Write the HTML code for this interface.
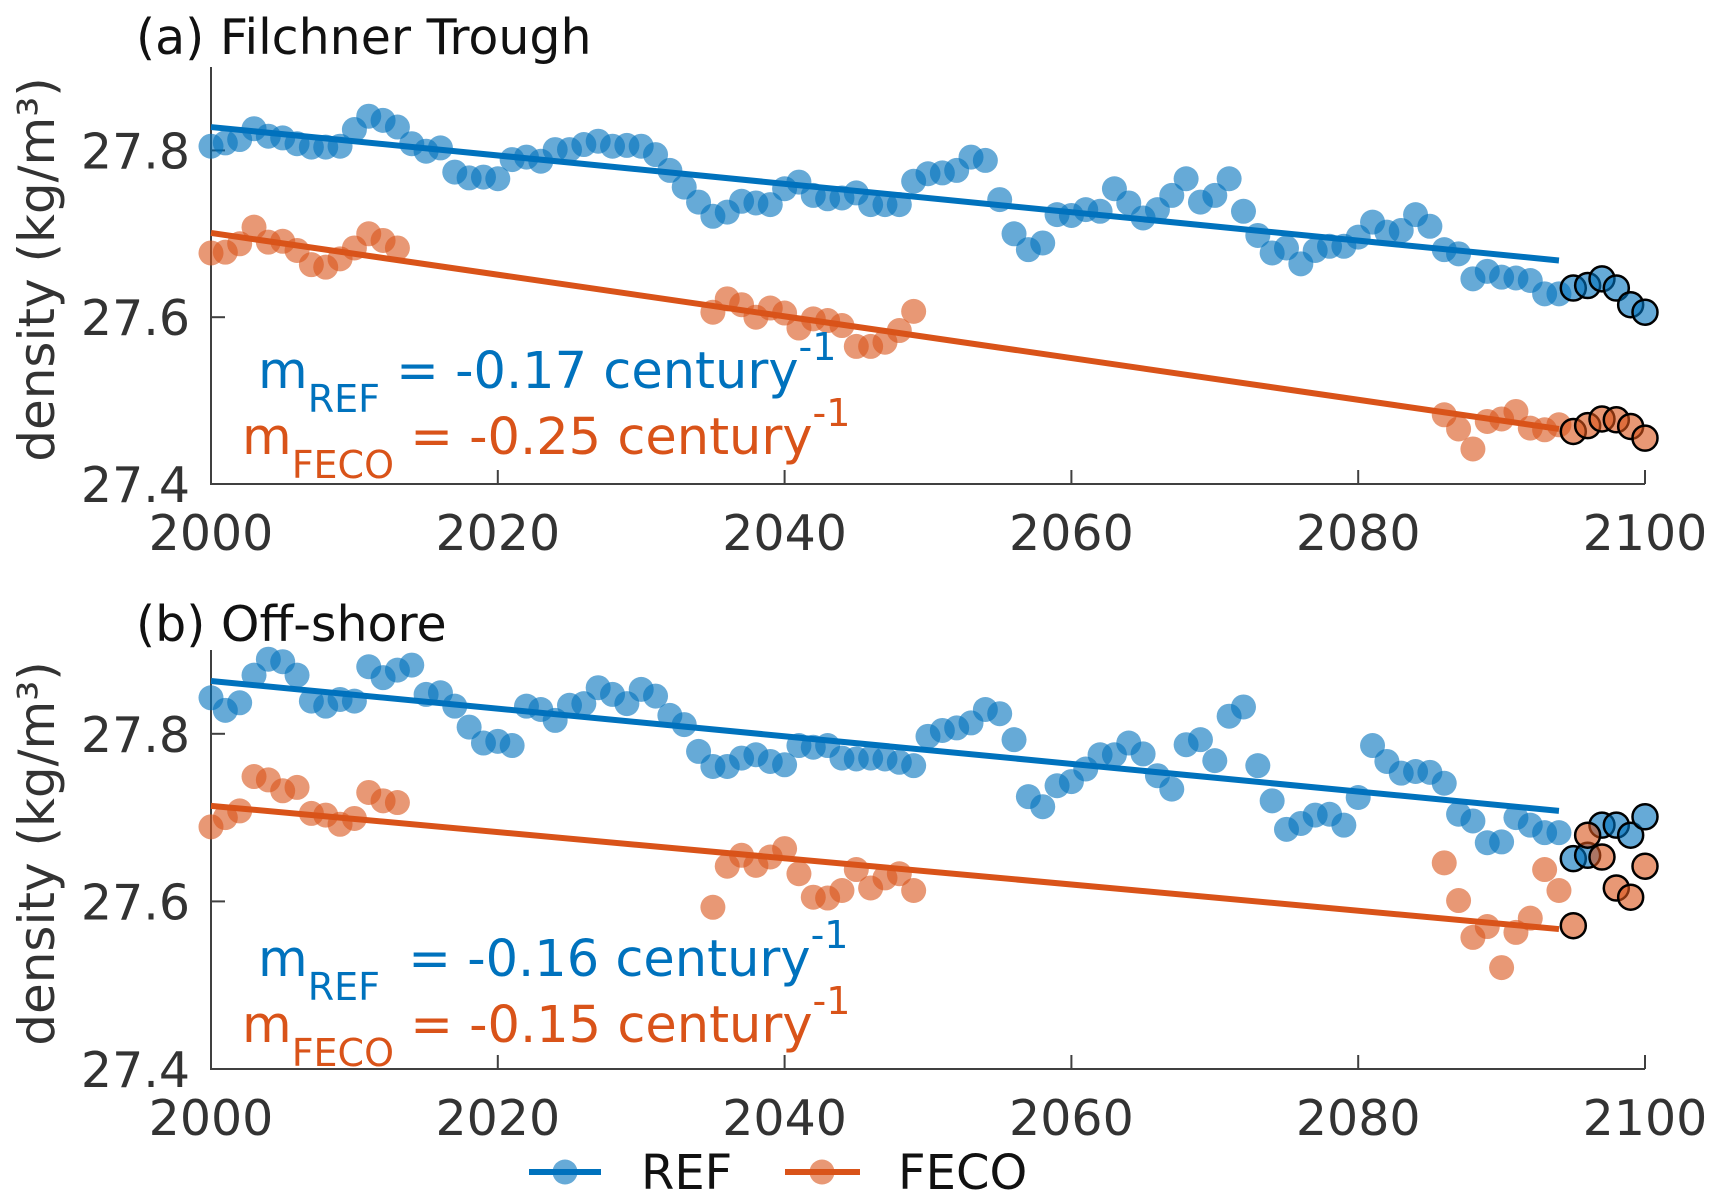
<!DOCTYPE html>
<html><head><meta charset="utf-8"><style>
html,body{margin:0;padding:0;background:#fff;}
svg{display:block;font-family:"DejaVu Sans","Liberation Sans",sans-serif;}
</style></head><body>
<svg id="chart" width="1720" height="1202" viewBox="0 0 1720 1202" xmlns="http://www.w3.org/2000/svg"></svg>
<script>
const xTicks = [2000, 2020, 2040, 2060, 2080, 2100];
const yTicks = [27.4, 27.6, 27.8];
const yTickLabels = ["27.4", "27.6", "27.8"];
const refYearsStart = 2000;
const fecoYears = [2000,2001,2002,2003,2004,2005,2006,2007,2008,2009,2010,2011,2012,2013,
 2035,2036,2037,2038,2039,2040,2041,2042,2043,2044,2045,2046,2047,2048,2049,
 2086,2087,2088,2089,2090,2091,2092,2093,2094,2095,2096,2097,2098,2099,2100];
const aRef = [27.805,27.809,27.813,27.826,27.817,27.815,27.808,27.804,27.804,27.805,27.825,27.841,27.836,27.828,27.808,27.799,27.803,27.774,27.767,27.768,27.766,
 27.789,27.792,27.787,27.801,27.801,27.807,27.811,27.805,27.806,27.805,27.795,27.776,27.756,27.738,27.721,27.726,27.739,27.737,27.735,27.754,
 27.762,27.746,27.742,27.743,27.749,27.735,27.735,27.735,27.763,27.772,27.773,27.776,27.792,27.788,27.741,27.700,27.681,27.689,27.723,27.722,
 27.729,27.727,27.754,27.737,27.719,27.729,27.746,27.766,27.738,27.746,27.766,27.727,27.698,27.677,27.683,27.664,27.680,27.685,27.685,27.696,
 27.714,27.702,27.704,27.723,27.709,27.681,27.676,27.646,27.655,27.648,27.647,27.644,27.628,27.628,27.635,27.638,27.646,27.635,27.615,27.606];
const aFeco = [27.677,27.678,27.688,27.708,27.690,27.691,27.680,27.663,27.660,27.670,27.683,27.700,27.692,27.683,
 27.606,27.622,27.615,27.600,27.611,27.605,27.587,27.598,27.596,27.590,27.565,27.565,27.570,27.584,27.607,
 27.483,27.466,27.442,27.475,27.478,27.487,27.467,27.465,27.471,27.463,27.470,27.478,27.477,27.469,27.455];
const bRef = [27.843,27.828,27.837,27.870,27.889,27.886,27.870,27.839,27.833,27.841,27.839,27.880,27.867,27.876,27.882,27.847,27.849,27.833,27.808,27.789,27.791,
 27.786,27.833,27.829,27.816,27.834,27.836,27.855,27.847,27.836,27.853,27.845,27.822,27.811,27.779,27.761,27.761,27.771,27.775,27.767,27.763,
 27.786,27.784,27.786,27.771,27.770,27.771,27.770,27.766,27.762,27.797,27.804,27.807,27.813,27.829,27.824,27.793,27.725,27.713,27.738,27.743,
 27.758,27.775,27.775,27.789,27.776,27.750,27.734,27.787,27.793,27.768,27.821,27.832,27.762,27.720,27.686,27.693,27.703,27.704,27.691,27.724,
 27.786,27.767,27.753,27.755,27.754,27.741,27.704,27.696,27.670,27.671,27.700,27.691,27.682,27.682,27.651,27.655,27.691,27.691,27.679,27.701];
const bFeco = [27.689,27.700,27.708,27.749,27.745,27.732,27.736,27.705,27.703,27.692,27.699,27.730,27.720,27.718,
 27.593,27.642,27.655,27.643,27.653,27.663,27.633,27.605,27.604,27.613,27.638,27.616,27.628,27.633,27.613,
 27.646,27.601,27.557,27.570,27.521,27.563,27.580,27.638,27.613,27.571,27.679,27.653,27.616,27.605,27.642];
const fitYears = [2000, 2094];
const aRefFit = [27.828, 27.668];
const aFecoFit = [27.701, 27.466];
const bRefFit = [27.863, 27.708];
const bFecoFit = [27.714, 27.567];

const NS = "http://www.w3.org/2000/svg";
const svg = document.getElementById("chart");
const BLUE = "#0072BD", ORANGE = "#D95319", AX = "#404040";
function mk(tag, attrs, parent) {
  const e = document.createElementNS(NS, tag);
  for (const k in attrs) e.setAttribute(k, attrs[k]);
  (parent || svg).appendChild(e);
  return e;
}
const X0 = 211, X1 = 1645;
function xs(yr) { return X0 + (yr - 2000) / 100 * (X1 - X0); }

function panel(id, top, bottom, title, titleY, refData, fecoData, refFit, fecoFit, refSub, refTxt, fecoTxt, txtY) {
  const g = mk("g", {});
  
  
  const ys = v => bottom - (v - 27.4) / 0.5 * (bottom - top);
  const ax = mk("path", {d: `M${X0},${top} L${X0},${bottom} L${X1},${bottom}`, stroke: AX, "stroke-width": 2, fill: "none"}, g);
  
  
  xTicks.forEach(t => {
    const x = xs(t);
    mk("line", {x1: x, y1: bottom, x2: x, y2: bottom - 14, stroke: AX, "stroke-width": 2}, g);
    const tl = mk("text", {x: x, y: bottom + 66, "text-anchor": "middle", "font-size": 49, fill: "#333"}, g);
    tl.textContent = t;
    
    
  });
  yTicks.forEach((t, i) => {
    const y = ys(t);
    mk("line", {x1: X0, y1: y, x2: X0 + 14, y2: y, stroke: AX, "stroke-width": 2}, g);
    const tl = mk("text", {x: 190, y: y + 18, "text-anchor": "end", "font-size": 49, fill: "#333"}, g);
    tl.textContent = yTickLabels[i];
    
    
  });
  const yl = mk("text", {x: 0, y: 0, transform: `translate(54,${(top + bottom) / 2 - 6}) rotate(-90)`, "text-anchor": "middle", "font-size": 50, fill: "#333"}, g);
  yl.textContent = "density (kg/m³)";
  
  
  const tt = mk("text", {x: 136, y: titleY, "font-size": 49, fill: "#111"}, g);
  tt.textContent = title;
  
  
  [[refFit, BLUE, 'ref'], [fecoFit, ORANGE, 'feco']].forEach(([f, c, n]) => {
    const l = mk("line", {x1: xs(fitYears[0]), y1: ys(f[0]), x2: xs(fitYears[1]), y2: ys(f[1]), stroke: c, "stroke-width": 6}, g);
    
    
  });
  function pts(data, years, col, n) {
    data.forEach((v, i) => {
      const yr = years ? years[i] : refYearsStart + i;
      const last = yr >= 2095;
      const c = mk("circle", {cx: xs(yr), cy: ys(v), r: 12.5, fill: col, "fill-opacity": 0.6,
        stroke: last ? "#000" : "none", "stroke-width": 2.5}, g);
      
      
    });
  }
  pts(refData, null, BLUE, 'ref');
  pts(fecoData, fecoYears, ORANGE, 'feco');
  function ann(x, y, col, sub, val, n) {
    const t = mk("text", {x: x, y: y, "font-size": 51, fill: col}, g);
    t.innerHTML = `m<tspan dy="24" font-size="38">${sub}</tspan><tspan dy="-24"> = ${val} century</tspan><tspan dy="-28" font-size="38">-1</tspan>`;
    
    
  }
  ann(258, txtY, BLUE, refSub, refTxt, 'ref');
  ann(242, txtY + 66, ORANGE, "FECO", fecoTxt, 'feco');
}
panel('panel-a', 67, 484, "(a) Filchner Trough", 54, aRef, aFeco, aRefFit, aFecoFit, "REF", "-0.17", "-0.25", 388);
panel('panel-b', 650, 1069, "(b) Off-shore", 641, bRef, bFeco, bRefFit, bFecoFit, "REF\u00a0", "-0.16", "-0.15", 976);
const lg = mk("g", {});


[[529, 601, 565, 641, BLUE, "REF", 'legend-ref'], [785, 860, 822, 898, ORANGE, "FECO", 'legend-feco']].forEach(([a, b, m, tx, c, lab, n]) => {
  const e = mk("g", {}, lg);
  
  
  mk("line", {x1: a, y1: 1172, x2: b, y2: 1172, stroke: c, "stroke-width": 6}, e);
  mk("circle", {cx: m, cy: 1172, r: 12.5, fill: c, "fill-opacity": 0.6}, e);
  const t = mk("text", {x: tx, y: 1189, "font-size": 48, fill: "#111"}, e);
  t.textContent = lab;
});
</script>
</body></html>
